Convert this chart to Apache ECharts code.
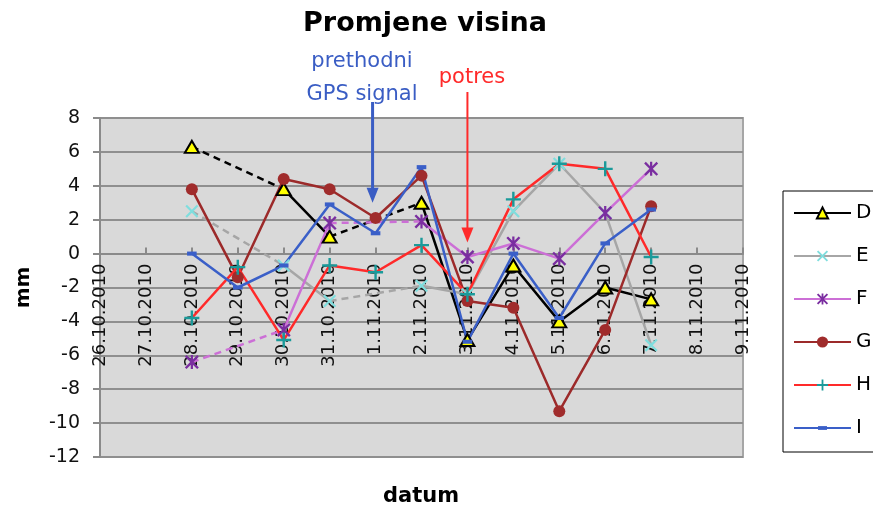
<!DOCTYPE html>
<html>
<head>
<meta charset="utf-8">
<script src="https://cdn.jsdelivr.net/npm/echarts@6/dist/echarts.min.js"></script>
<style>
  html, body { margin: 0; padding: 0; background: #fff; }
  #chart { width: 873px; height: 511px; }
</style>
</head>
<body>
<div id="chart"></div>
<script>
const dates = [
  "26.10.2010", "27.10.2010", "28.10.2010", "29.10.2010", "30.10.2010",
  "31.10.2010", "1.11.2010", "2.11.2010", "3.11.2010", "4.11.2010",
  "5.11.2010", "6.11.2010", "7.11.2010", "8.11.2010", "9.11.2010",
];

// mm, null = no measurement
const valD = [null, null, 6.3, null, 3.8, 1.0, null, 3.0, -5.1, -0.7, -4.0, -2.0, -2.7, null, null];
const valE = [null, null, 2.5, null, -0.7, -2.8, null, -1.9, -2.4, 2.5, 5.3, 2.4, -5.4, null, null];
const valF = [null, null, -6.4, null, -4.5, 1.8, null, 1.9, -0.2, 0.6, -0.3, 2.4, 5.0, null, null];
const valG = [null, null, 3.8, -1.4, 4.4, 3.8, 2.1, 4.6, -2.8, -3.2, -9.3, -4.5, 2.8, null, null];
const valH = [null, null, -3.8, -0.8, -5.1, -0.7, -1.1, 0.5, -2.4, 3.2, 5.3, 5.0, -0.2, null, null];
const valI = [null, null, 0.0, -2.0, -0.7, 2.9, 1.2, 5.1, -5.2, 0.0, -3.8, 0.6, 2.6, null, null];

const yTicks = { min: -12, max: 8, step: 2 };

const font = "DejaVu Sans";
const grid = { left: 100, right: 130, top: 118, bottom: 54 };
const gridH = 511 - grid.top - grid.bottom;

// X, asterisk, plus, dash as filled shapes (dash keeps a square box via empty corner moves)
const xPath = "path://M0,1.2L1.2,0L5,3.8L8.8,0L10,1.2L6.2,5L10,8.8L8.8,10L5,6.2L1.2,10L0,8.8L3.8,5Z";
const starPath = "path://M0,1.2L1.2,0L5,3.8L8.8,0L10,1.2L6.2,5L10,8.8L8.8,10L5,6.2L1.2,10L0,8.8L3.8,5Z M4.2,0L5.8,0L5.8,10L4.2,10Z";
const plusPath = "path://M4.2,0L5.8,0L5.8,4.2L10,4.2L10,5.8L5.8,5.8L5.8,10L4.2,10L4.2,5.8L0,5.8L0,4.2L4.2,4.2Z";
const dashPath = "path://M0,0L0,0M10,10L10,10M1,3.3L9,3.3L9,6.7L1,6.7Z";

const seriesConf = [
  { name: "D", data: valD, line: "#000000", symbol: "triangle", size: [14, 12], fill: "#ffff00", border: "#000000", bw: 2 },
  { name: "E", data: valE, line: "#a6a6a6", symbol: xPath, size: 13, fill: "#7fdede", border: "#7fdede", bw: 0 },
  { name: "F", data: valF, line: "#cc6fd6", symbol: starPath, size: 14, fill: "#7a2ea0", border: "#7a2ea0", bw: 0 },
  { name: "G", data: valG, line: "#9c2a2a", symbol: "circle", size: 12, fill: "#a02c2c", border: "#a02c2c", bw: 0 },
  { name: "H", data: valH, line: "#ff2a2a", symbol: plusPath, size: 15, fill: "#1a9a9a", border: "#1a9a9a", bw: 0 },
  { name: "I", data: valI, line: "#3a5fc8", symbol: dashPath, size: 12, fill: "#3a5fc8", border: "#3a5fc8", bw: 0 },
];

// dashed links over missing days
const gapSeries = [];
seriesConf.forEach((s) => {
  let last = -1;
  s.data.forEach((v, i) => {
    if (v === null) return;
    if (last >= 0 && i - last > 1) {
      const d = dates.map(() => null);
      d[last] = s.data[last];
      d[i] = v;
      gapSeries.push({
        type: "line",
        data: d,
        connectNulls: true,
        symbol: "none",
        silent: true,
        z: 2,
        lineStyle: { color: s.line, width: 2.5, type: [7, 5] },
      });
    }
    last = i;
  });
});

const mainSeries = seriesConf.map((s) => ({
  name: s.name,
  type: "line",
  data: s.data,
  symbol: s.symbol,
  symbolSize: s.size,
  z: 3,
  lineStyle: { color: s.line, width: 2.5 },
  itemStyle: { color: s.fill, borderColor: s.border, borderWidth: s.bw },
  emphasis: { disabled: true },
}));

const chart = echarts.init(document.getElementById("chart"), null, { renderer: "canvas" });

chart.setOption({
  animation: false,
  backgroundColor: "#ffffff",
  textStyle: { fontFamily: font },
  grid: {
    ...grid,
    outerBoundsMode: "none",
    containLabel: false,
    show: true, backgroundColor: "#d9d9d9", borderColor: "#a6a6a6", borderWidth: 2,
  },
  legend: {
    data: seriesConf.map((s) => s.name),
    orient: "vertical",
    left: 783, top: 191,
    padding: [12, 40, 14, 10],
    itemWidth: 57, itemHeight: 14, itemGap: 23,
    borderColor: "#000", borderWidth: 1,
    textStyle: { fontSize: 20, fontFamily: font, color: "#000" },
  },
  xAxis: {
    type: "category",
    data: dates,
    boundaryGap: false,
    z: 1,
    // axis sits on y = 0, labels hang below it inside the plot
    offset: -gridH * (0 - yTicks.min) / (yTicks.max - yTicks.min),
    axisLine: { onZero: false, lineStyle: { color: "#8a8a8a", width: 2 } },
    axisTick: { inside: true, length: 6, lineStyle: { color: "#8a8a8a", width: 2 } },
    axisLabel: { rotate: 90, interval: 0, margin: 10, fontSize: 18, fontFamily: font, color: "#111" },
    splitLine: { show: false },
  },
  yAxis: {
    type: "value",
    min: yTicks.min, max: yTicks.max, interval: yTicks.step,
    name: "mm",
    nameLocation: "middle",
    nameRotate: 90,
    nameGap: 66,
    nameTextStyle: { fontSize: 20, fontWeight: "bold", fontFamily: font, color: "#000" },
    axisLine: { show: true, lineStyle: { color: "#8a8a8a", width: 2 } },
    axisTick: { show: true, length: 7, lineStyle: { color: "#8a8a8a", width: 2 } },
    axisLabel: { margin: 20, fontSize: 19, fontFamily: font, color: "#111" },
    splitLine: { lineStyle: { color: "#8f8f8f", width: 2 } },
  },
  series: [...gapSeries, ...mainSeries],
});

// annotations: title, axis name, arrows
const notes = [
  { lines: ["prethodni", "GPS signal"], color: "#3a5dc4", date: "1.11.2010", tip: 3.0, dx: -3, textX: 362, textY: 62, lineTop: 102, w: 3 },
  { lines: ["potres"], color: "#ff2a2a", date: "3.11.2010", tip: 0.65, dx: 0, textX: 472, textY: 78, lineTop: 92, w: 2 },
];

const graphics = [
  { type: "text", style: { text: "Promjene visina", x: 425, y: 24, align: "center", verticalAlign: "middle", textAlign: "center", textVerticalAlign: "middle", font: "bold 27px " + font, fill: "#000" } },
  { type: "text", style: { text: "datum", x: 421, y: 497, align: "center", verticalAlign: "middle", textAlign: "center", textVerticalAlign: "middle", font: "bold 21px " + font, fill: "#000" } },
];

notes.forEach((n) => {
  const x = chart.convertToPixel({ xAxisIndex: 0 }, n.date) + n.dx;
  const yTip = chart.convertToPixel({ yAxisIndex: 0 }, n.tip);
  n.lines.forEach((t, i) => {
    graphics.push({ type: "text", style: { text: t, x: n.textX, y: n.textY + i * 33, align: "center", verticalAlign: "middle", textAlign: "center", textVerticalAlign: "middle", font: "21px " + font, fill: n.color } });
  });
  graphics.push({ type: "line", shape: { x1: x, y1: n.lineTop, x2: x, y2: yTip - 12 }, style: { stroke: n.color, lineWidth: n.w }, z: 10 });
  graphics.push({ type: "polygon", shape: { points: [[x - 6, yTip - 15], [x + 6, yTip - 15], [x, yTip]] }, style: { fill: n.color }, z: 10 });
});

chart.setOption({ graphic: graphics });
</script>
</body>
</html>
